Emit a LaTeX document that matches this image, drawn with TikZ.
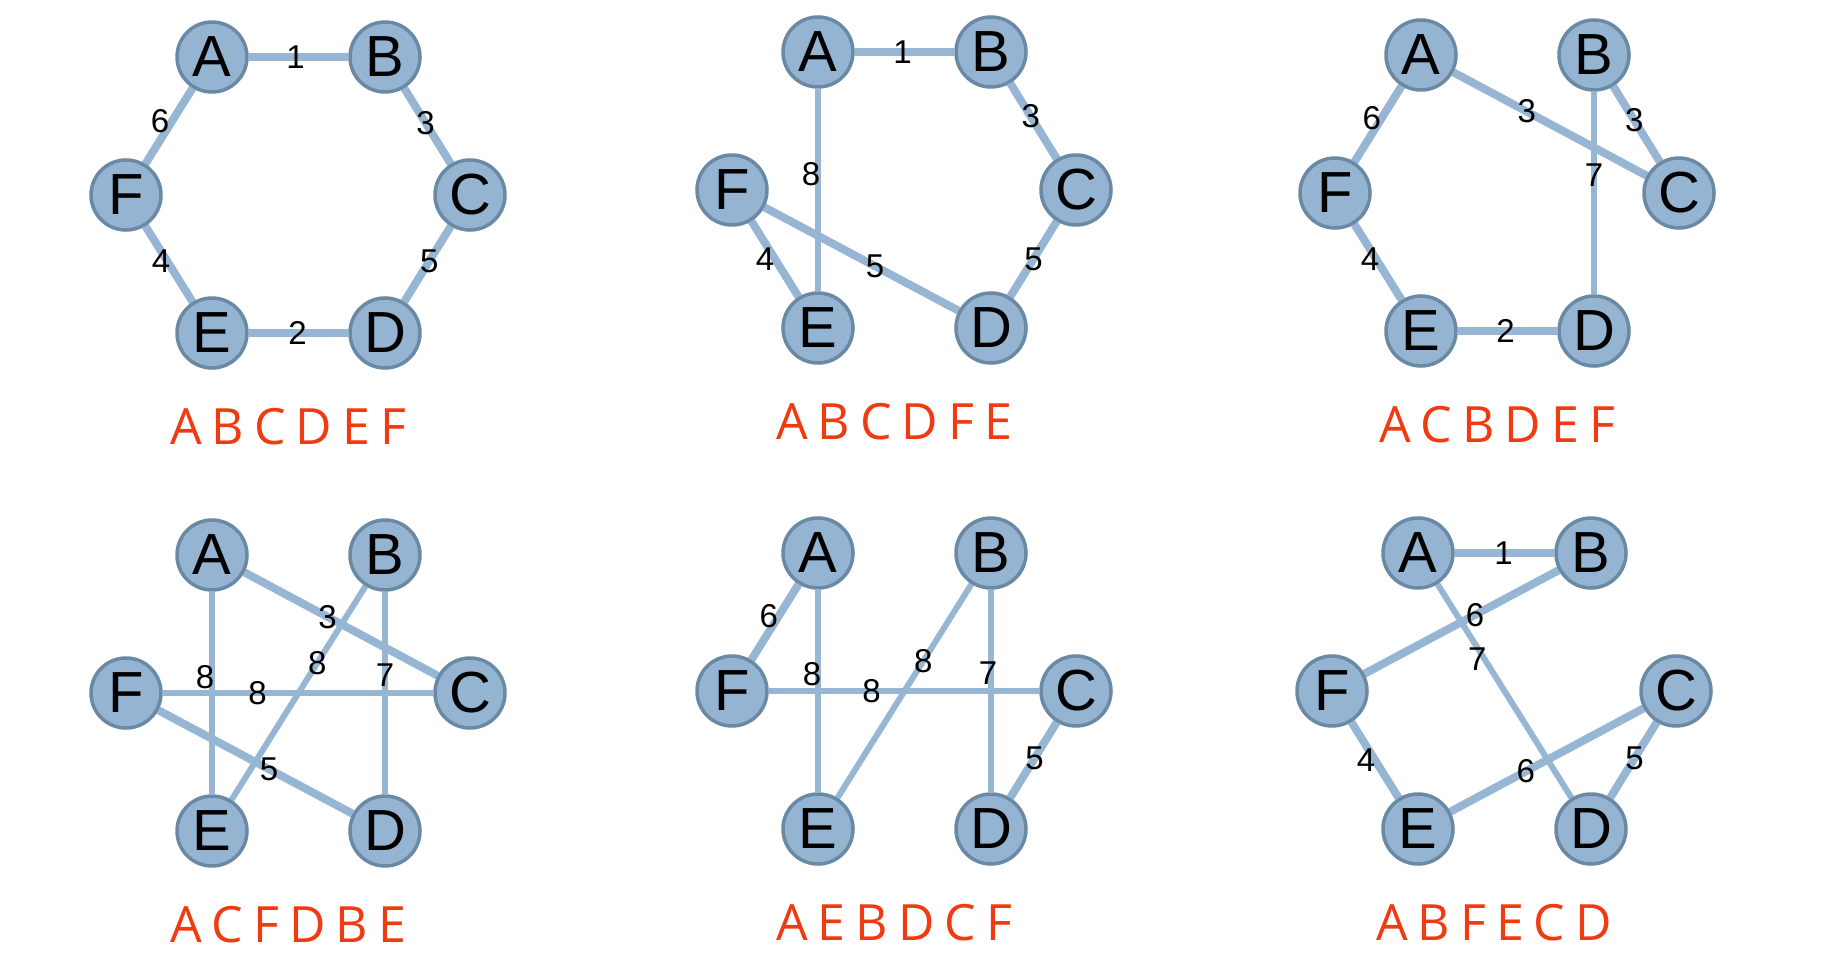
\documentclass[tikz,border=0pt]{standalone}
\usepackage{fontspec}
\setmainfont{Liberation Sans}
\newfontfamily\seqfont{Open Sans}
\usetikzlibrary{backgrounds}
\pgfdeclarelayer{bottom}
\pgfsetlayers{bottom,background,main}
\definecolor{nodefill}{RGB}{148,180,210}
\definecolor{nodeedge}{RGB}{106,137,165}
\definecolor{edgecol}{RGB}{150,182,211}
\definecolor{seqred}{RGB}{240,58,18}
\tikzset{
  vtx/.style={circle, fill=nodefill, draw=nodeedge, line width=3.5pt, minimum size=70pt, inner sep=0pt, font=\fontsize{58}{58}\selectfont},
  edge/.style={draw=edgecol, line width=8pt},
  thinedge/.style={draw=edgecol, line width=6pt},
  lbl/.style={inner sep=0pt, font=\fontsize{33}{33}\selectfont, text=black},
  seq/.style={text=seqred, font=\seqfont\fontsize{50}{50}\selectfont, inner sep=0pt},
}
\newcommand\sq[6]{#1\hspace{10pt}#2\hspace{10pt}#3\hspace{10pt}#4\hspace{10pt}#5\hspace{10pt}#6}
\newcommand\panelnodes[2]{%
  \node[vtx] (#1A) at (0,0) {A};
  \node[vtx] (#1B) at (173,0) {B};
  \node[vtx] (#1C) at (258,138) {C};
  \node[vtx] (#1D) at (173,276) {D};
  \node[vtx] (#1E) at (0,276) {E};
  \node[vtx] (#1F) at (-86,138) {F};
  \node[seq] (#1S) at (76,370) {#2};
}
\begin{document}
\begin{tikzpicture}[x=1pt,y=-1pt]
\useasboundingbox (0,0) rectangle (1828,968);
\begin{pgfonlayer}{bottom}
\fill[white] (0,0) rectangle (1828,968);
\end{pgfonlayer}

% Panel 1
\begin{scope}[shift={(212,57)}]
\panelnodes{p1}{\sq ABCDEF}
\begin{pgfonlayer}{background}
\draw[edge] (p1A) -- node[lbl,pos=.47]{1} (p1B);
\draw[edge] (p1B) -- node[lbl,pos=.46]{3} (p1C);
\draw[edge] (p1C) -- node[lbl,pos=.46]{5} (p1D);
\draw[edge] (p1E) -- node[lbl,pos=.49]{2} (p1D);
\draw[edge] (p1F) -- node[lbl,pos=.46,xshift=-6pt]{4} (p1E);
\draw[edge] (p1A) -- node[lbl,pos=.435,xshift=-12pt]{6} (p1F);
\end{pgfonlayer}
\end{scope}

% Panel 2
\begin{scope}[shift={(818,52)}]
\panelnodes{p2}{\sq ABCDFE}
\begin{pgfonlayer}{background}
\draw[edge] (p2A) -- node[lbl,pos=.48]{1} (p2B);
\draw[edge] (p2B) -- node[lbl,pos=.44]{3} (p2C);
\draw[edge] (p2C) -- node[lbl,pos=.5]{5} (p2D);
\draw[thinedge] (p2A) -- node[lbl,pos=.42,xshift=-7pt]{8} (p2E);
\draw[edge] (p2F) -- node[lbl,pos=.5,xshift=-10pt]{4} (p2E);
\draw[edge] (p2F) -- node[lbl,pos=.57]{5} (p2D);
\end{pgfonlayer}
\end{scope}

% Panel 3
\begin{scope}[shift={(1421,55)}]
\panelnodes{p3}{\sq ACBDEF}
\begin{pgfonlayer}{background}
\draw[edge] (p3A) -- node[lbl,pos=.42,xshift=-10pt]{6} (p3F);
\draw[edge] (p3A) -- node[lbl,pos=.38]{3} (p3C);
\draw[edge] (p3B) -- node[lbl,pos=.45]{3} (p3C);
\draw[thinedge] (p3B) -- node[lbl,pos=.41]{7} (p3D);
\draw[edge] (p3F) -- node[lbl,pos=.46,xshift=-6pt]{4} (p3E);
\draw[edge] (p3E) -- node[lbl,pos=.48]{2} (p3D);
\end{pgfonlayer}
\end{scope}

% Panel 4
\begin{scope}[shift={(212,555)}]
\panelnodes{p4}{\sq ACFDBE}
\begin{pgfonlayer}{background}
\draw[edge] (p4A) -- node[lbl,pos=.43]{3} (p4C);
\draw[thinedge] (p4A) -- node[lbl,pos=.42,xshift=-7pt]{8} (p4E);
\draw[thinedge] (p4F) -- node[lbl,pos=.35]{8} (p4C);
\draw[thinedge] (p4B) -- node[lbl,pos=.36]{8} (p4E);
\draw[thinedge] (p4B) -- node[lbl,pos=.41]{7} (p4D);
\draw[edge] (p4F) -- node[lbl,pos=.57]{5} (p4D);
\end{pgfonlayer}
\end{scope}

% Panel 5
\begin{scope}[shift={(818,553)}]
\panelnodes{p5}{\sq AEBDCF}
\begin{pgfonlayer}{background}
\draw[edge] (p5A) -- node[lbl,pos=.42,xshift=-10pt]{6} (p5F);
\draw[thinedge] (p5A) -- node[lbl,pos=.415,xshift=-6pt]{8} (p5E);
\draw[thinedge] (p5F) -- node[lbl,pos=.38]{8} (p5C);
\draw[thinedge] (p5B) -- node[lbl,pos=.36]{8} (p5E);
\draw[thinedge] (p5B) -- node[lbl,pos=.41,xshift=-3pt]{7} (p5D);
\draw[edge] (p5C) -- node[lbl,pos=.48]{5} (p5D);
\end{pgfonlayer}
\end{scope}

% Panel 6
\begin{scope}[shift={(1418,553)}]
\panelnodes{p6}{\sq ABFECD}
\begin{pgfonlayer}{background}
\draw[edge] (p6A) -- node[lbl,pos=.49]{1} (p6B);
\draw[edge] (p6B) -- node[lbl,pos=.43]{6} (p6F);
\draw[thinedge] (p6A) -- node[lbl,pos=.35,xshift=-7pt]{7} (p6D);
\draw[edge] (p6F) -- node[lbl,pos=.5,xshift=-9pt]{4} (p6E);
\draw[edge] (p6E) -- node[lbl,pos=.39]{6} (p6C);
\draw[edge] (p6C) -- node[lbl,pos=.48]{5} (p6D);
\end{pgfonlayer}
\end{scope}
\end{tikzpicture}
\end{document}
